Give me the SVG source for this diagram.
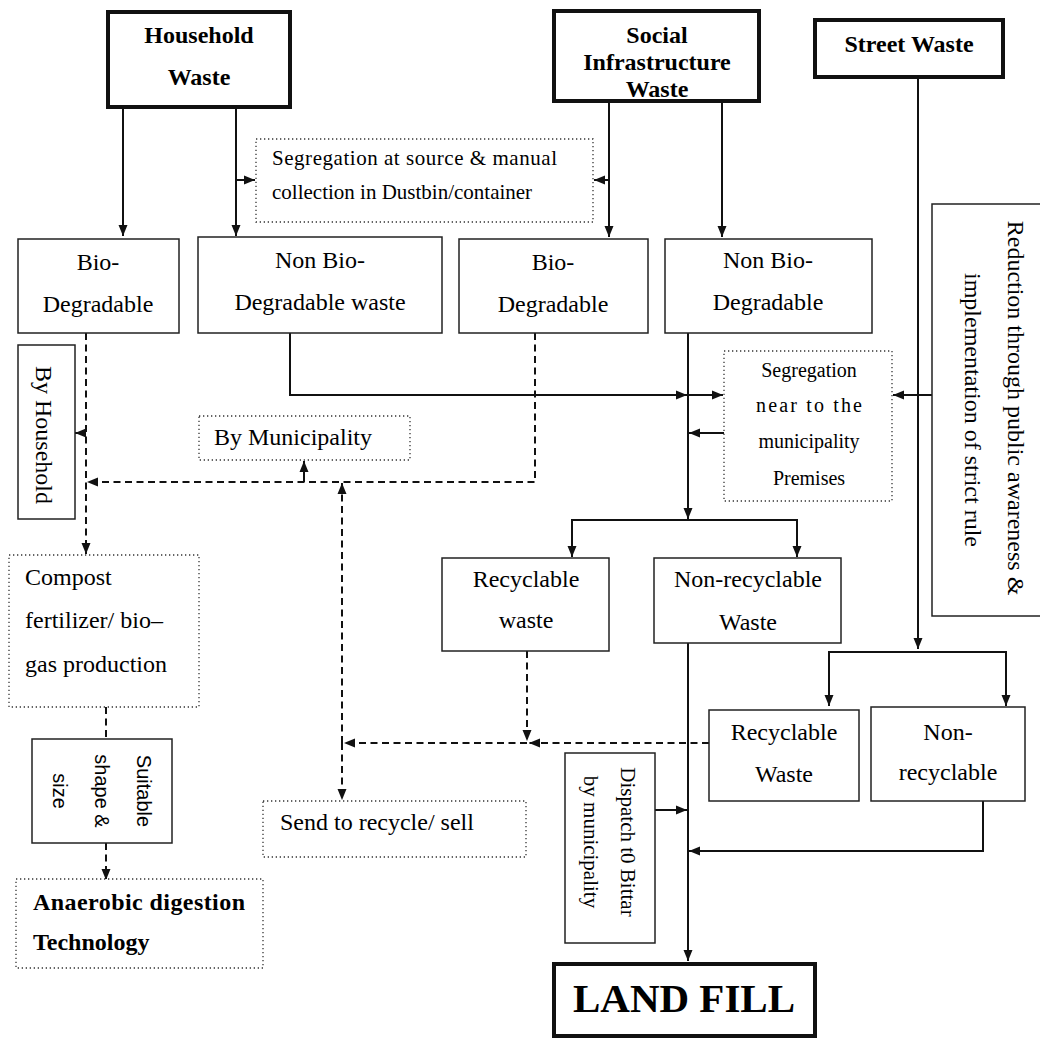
<svg xmlns="http://www.w3.org/2000/svg" width="1040" height="1038" viewBox="0 0 1040 1038">
<defs>
<marker id="ah" markerUnits="userSpaceOnUse" markerWidth="12" markerHeight="10" refX="11" refY="5" orient="auto">
<path d="M0,0.5 L11,5 L0,9.5 z" fill="#111"/>
</marker>
<style>
text{font-family:"Liberation Serif","Times New Roman",serif;fill:#000;}
.t{font-size:24px;}
.c{text-anchor:middle;}
.b{font-weight:bold;}
.box{fill:#fff;stroke:#222;stroke-width:1.5;}
.thick{fill:#fff;stroke:#111;stroke-width:4;}
.dot{fill:#fff;stroke:#333;stroke-width:1.3;stroke-dasharray:1.3 2.7;}
.ln{fill:none;stroke:#111;stroke-width:2;}
.ds{fill:none;stroke:#111;stroke-width:2;stroke-dasharray:7 4.5;}
.sans{font-family:"Liberation Sans",Arial,sans-serif;font-size:20px;}
</style>
</defs>
<rect width="1040" height="1038" fill="#fff"/>

<g id="connectors">
<path class="ln" d="M123,109 V236" marker-end="url(#ah)"/>
<path class="ln" d="M236,109 V236" marker-end="url(#ah)"/>
<path class="ln" d="M236,180 H255" marker-end="url(#ah)"/>
<path class="ln" d="M609,101 V237" marker-end="url(#ah)"/>
<path class="ln" d="M722,101 V237" marker-end="url(#ah)"/>
<path class="ln" d="M609,180 H594" marker-end="url(#ah)"/>
<path class="ln" d="M918,79 V649" marker-end="url(#ah)"/>
<path class="ln" d="M918,652 H829 V706" marker-end="url(#ah)"/>
<path class="ln" d="M918,652 H1006 V706" marker-end="url(#ah)"/>
<path class="ln" d="M290,333 V395 H687" marker-end="url(#ah)"/>
<path class="ln" d="M688,395 H723" marker-end="url(#ah)"/>
<path class="ln" d="M688,333 V519" marker-end="url(#ah)"/>
<path class="ln" d="M688,520 H572 V557" marker-end="url(#ah)"/>
<path class="ln" d="M688,520 H797 V557" marker-end="url(#ah)"/>
<path class="ln" d="M724,433 H689" marker-end="url(#ah)"/>
<path class="ln" d="M932,395 H893" marker-end="url(#ah)"/>
<path class="ln" d="M688,643 V961" marker-end="url(#ah)"/>
<path class="ln" d="M655,810 H687" marker-end="url(#ah)"/>
<path class="ln" d="M983,801 V851 H689" marker-end="url(#ah)"/>
<path class="ln" d="M304,482 V461" marker-end="url(#ah)"/>
<path class="ln" d="M86,433 H75" marker-end="url(#ah)"/>
<path class="ds" d="M86,333 V554" marker-end="url(#ah)"/>
<path class="ds" d="M535,333 V482 H87" marker-end="url(#ah)"/>
<path class="ds" d="M342,743 V483" marker-end="url(#ah)"/>
<path class="ds" d="M342,743 V800" marker-end="url(#ah)"/>
<path class="ds" d="M527,651 V741" marker-end="url(#ah)"/>
<path class="ds" d="M709,743 H529" marker-end="url(#ah)"/>
<path class="ds" d="M527,743 H344" marker-end="url(#ah)"/>
<path class="ds" d="M106,707 V739"/>
<path class="ds" d="M106,843 V880" marker-end="url(#ah)"/>
</g>

<g id="household">
<rect class="thick" x="108" y="12" width="182" height="95"/>
<text class="t c b" x="199" y="43">Household</text>
<text class="t c b" x="199" y="85">Waste</text>
</g>
<g id="social">
<rect class="thick" x="554" y="11" width="205" height="90"/>
<text class="t c b" x="657" y="43">Social</text>
<text class="t c b" x="657" y="70">Infrastructure</text>
<text class="t c b" x="657" y="97">Waste</text>
</g>
<g id="street">
<rect class="thick" x="815" y="20" width="188" height="57"/>
<text class="t c b" x="909" y="52">Street Waste</text>
</g>
<g id="seg-source">
<rect class="dot" x="256" y="139" width="337" height="83"/>
<text x="272" y="165" font-size="21" textLength="285" lengthAdjust="spacing">Segregation at source &amp; manual</text>
<text x="272" y="199" font-size="21">collection in Dustbin/container</text>
</g>
<g id="bio-household">
<rect class="box" x="18" y="239" width="161" height="94"/>
<text class="t c" x="98" y="270">Bio-</text>
<text class="t c" x="98" y="312">Degradable</text>
</g>
<g id="nonbio-household">
<rect class="box" x="198" y="237" width="244" height="96"/>
<text class="t c" x="320" y="268">Non Bio-</text>
<text class="t c" x="320" y="310">Degradable waste</text>
</g>
<g id="bio-social">
<rect class="box" x="459" y="239" width="189" height="94"/>
<text class="t c" x="553" y="270">Bio-</text>
<text class="t c" x="553" y="312">Degradable</text>
</g>
<g id="nonbio-social">
<rect class="box" x="665" y="239" width="207" height="94"/>
<text class="t c" x="768" y="268">Non Bio-</text>
<text class="t c" x="768" y="310">Degradable</text>
</g>
<g id="reduction">
<rect class="box" x="932" y="204" width="120" height="412"/>
<text class="t c" transform="translate(1008,408) rotate(90)">Reduction through public awareness &amp;</text>
<text class="t c" transform="translate(965,410) rotate(90)">implementation of strict rule</text>
</g>
<g id="seg-municipality">
<rect class="dot" x="724" y="351" width="168" height="150"/>
<text class="c" x="809" y="377" font-size="20">Segregation</text>
<text x="756" y="412" font-size="20" textLength="106" lengthAdjust="spacing">near to the</text>
<text class="c" x="809" y="448" font-size="20">municipality</text>
<text class="c" x="809" y="485" font-size="20">Premises</text>
</g>
<g id="by-household">
<rect class="box" x="18" y="345" width="57" height="174"/>
<text class="t c" transform="translate(36,435) rotate(90)">By Household</text>
</g>
<g id="by-municipality">
<rect class="dot" x="199" y="416" width="211" height="44"/>
<text class="t" x="214" y="445">By Municipality</text>
</g>
<g id="compost">
<rect class="dot" x="9" y="555" width="190" height="152"/>
<text class="t" x="25" y="585">Compost</text>
<text class="t" x="25" y="628">fertilizer/ bio–</text>
<text class="t" x="25" y="672">gas production</text>
</g>
<g id="recyclable-social">
<rect class="box" x="442" y="558" width="167" height="93"/>
<text class="t c" x="526" y="587">Recyclable</text>
<text class="t c" x="526" y="628">waste</text>
</g>
<g id="nonrecyclable-social">
<rect class="box" x="654" y="558" width="187" height="85"/>
<text class="t c" x="748" y="587">Non-recyclable</text>
<text class="t c" x="748" y="630">Waste</text>
</g>
<g id="recyclable-street">
<rect class="box" x="709" y="710" width="150" height="91"/>
<text class="t c" x="784" y="740">Recyclable</text>
<text class="t c" x="784" y="782">Waste</text>
</g>
<g id="nonrecyclable-street">
<rect class="box" x="871" y="707" width="154" height="94"/>
<text class="t c" x="948" y="740">Non-</text>
<text class="t c" x="948" y="780">recyclable</text>
</g>
<g id="suitable">
<rect class="box" x="32" y="739" width="140" height="104"/>
<text class="sans c" transform="translate(137,791) rotate(90)">Suitable</text>
<text class="sans c" transform="translate(95,791) rotate(90)">shape &amp;</text>
<text class="sans c" transform="translate(53,791) rotate(90)">size</text>
</g>
<g id="send-recycle">
<rect class="dot" x="263" y="801" width="263" height="56"/>
<text class="t" x="280" y="830">Send to recycle/ sell</text>
</g>
<g id="dispatch">
<rect class="box" x="565" y="753" width="90" height="190"/>
<text class="c" font-size="21" transform="translate(621,842) rotate(90)">Dispatch t0 Bittar</text>
<text class="c" font-size="21" transform="translate(584,842) rotate(90)">by municipality</text>
</g>
<g id="anaerobic">
<rect class="dot" x="16" y="879" width="247" height="89"/>
<text class="t b" x="33" y="910" textLength="212" lengthAdjust="spacing">Anaerobic digestion</text>
<text class="t b" x="33" y="950">Technology</text>
</g>
<g id="landfill">
<rect class="thick" x="554" y="964" width="261" height="72"/>
<text class="c b" x="684" y="1012" font-size="41">LAND FILL</text>
</g>
</svg>
